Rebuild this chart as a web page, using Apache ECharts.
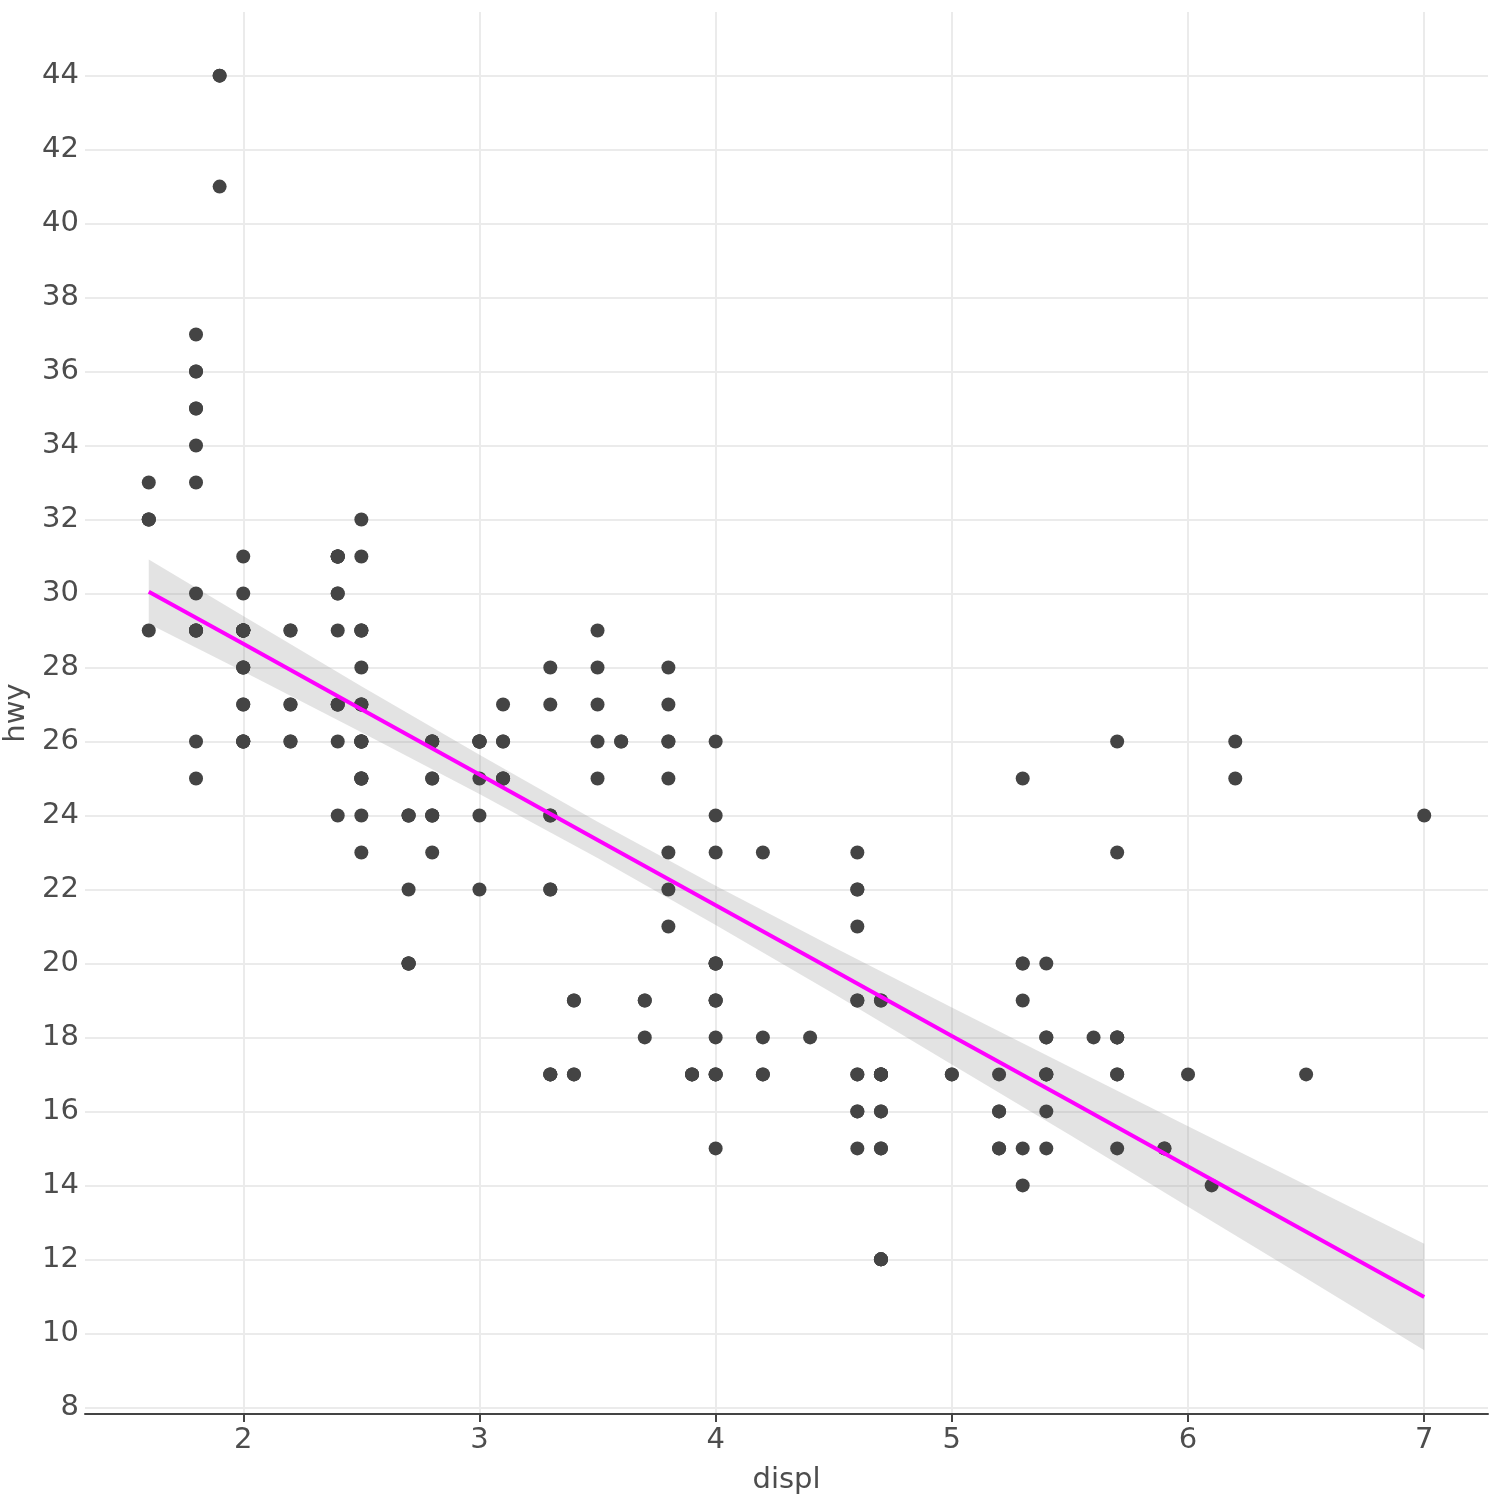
<!DOCTYPE html>
<html><head><meta charset="utf-8">
<script src="https://cdn.jsdelivr.net/npm/echarts@6/dist/echarts.min.js"></script>
<style>html,body{margin:0;padding:0;background:#fff}#c{width:1500px;height:1500px}</style>
</head><body><div id="c"></div>
<script>
// mpg: displ vs hwy (one entry per car)
const displ = [
1.8,1.8,2.0,2.0,2.8,2.8,3.1,1.8,1.8,2.0,
2.0,2.8,2.8,3.1,3.1,2.8,3.1,4.2,5.3,5.3,
5.3,5.7,6.0,5.7,5.7,6.2,6.2,7.0,5.3,5.3,
5.7,6.5,2.4,2.4,3.1,3.5,3.6,2.4,3.0,3.3,
3.3,3.3,3.3,3.3,3.8,3.8,3.8,4.0,3.7,3.7,
3.9,3.9,4.7,4.7,4.7,5.2,5.2,3.9,4.7,4.7,
4.7,5.2,5.7,5.9,4.7,4.7,4.7,4.7,4.7,4.7,
5.2,5.2,5.7,5.9,4.6,5.4,5.4,4.0,4.0,4.0,
4.0,4.6,5.0,4.2,4.2,4.6,4.6,4.6,5.4,5.4,
3.8,3.8,4.0,4.0,4.6,4.6,4.6,4.6,5.4,
1.6,1.6,1.6,1.6,1.6,1.8,1.8,1.8,2.0,
2.4,2.4,2.4,2.4,2.5,2.5,3.3,
2.0,2.0,2.0,2.0,2.7,2.7,2.7,
3.0,3.7,4.0,4.7,4.7,5.7,6.1,
4.0,4.2,4.4,4.6,
5.4,5.4,5.4,
4.0,4.0,4.6,5.0,
2.4,2.4,2.5,2.5,3.5,3.5,3.0,3.0,3.5,3.3,3.3,4.0,5.6,
3.1,3.8,3.8,3.8,5.3,
2.5,2.5,2.5,2.5,2.5,2.5,2.2,2.2,2.5,2.5,2.5,2.5,2.5,2.5,
2.7,2.7,3.4,3.4,4.0,4.7,
2.2,2.2,2.4,2.4,3.0,3.0,3.5,
2.2,2.2,2.4,2.4,3.0,3.0,3.3,
1.8,1.8,1.8,1.8,1.8,
4.7,5.7,
2.7,2.7,2.7,3.4,3.4,4.0,4.0,
2.0,2.0,2.0,2.0,2.8,
1.9,2.0,2.0,2.0,2.0,2.5,2.5,2.8,2.8,
1.9,1.9,2.0,2.0,2.5,2.5,
1.8,1.8,2.0,2.0,2.8,2.8,3.6
];
const hwy = [
29,29,31,30,26,26,27,26,25,28,
27,25,25,25,25,24,25,23,20,15,
20,17,17,26,23,26,25,24,19,14,
15,17,27,30,26,29,26,24,24,22,
22,24,24,17,22,21,23,23,19,18,
17,17,19,19,12,17,15,17,17,12,
17,16,18,15,16,12,17,17,16,15,
15,16,17,15,17,17,18,17,19,17,
19,19,17,17,17,16,16,17,15,17,
26,25,26,24,21,22,23,22,20,
33,32,32,29,32,34,36,36,29,
26,27,30,31,26,26,28,
26,29,28,27,24,24,24,
22,19,20,17,12,18,14,
15,18,18,15,
17,16,18,
17,19,19,17,
29,27,31,32,27,26,26,25,25,17,17,20,18,
26,26,27,28,25,
25,24,27,25,26,23,26,26,26,26,25,27,25,27,
20,20,19,17,20,17,
29,27,31,31,26,26,28,
27,29,31,31,26,26,27,
30,33,35,37,35,
15,18,
20,20,22,17,19,18,20,
29,26,29,29,24,
44,29,26,29,29,29,29,23,24,
44,41,29,26,28,29,
29,29,28,29,26,26,26
];
// linear fit and 95% band
const fitX = [1.6,2.0,2.5,3.0,3.5,4.0,4.5,5.0,5.5,6.0,6.5,7.0];
const fitY = [30.05,28.64,26.87,25.11,23.34,21.57,19.81,18.04,16.28,14.51,12.75,10.98];
const bandLow = [29.18,27.89,26.25,24.58,22.85,21.04,19.18,17.27,15.36,13.42,11.49,9.54];
const bandHigh = [30.92,29.39,27.49,25.64,23.83,22.10,20.44,18.81,17.20,15.60,14.01,12.42];
const xTicks = [2,3,4,5,6,7];
const yTicks = [8,10,12,14,16,18,20,22,24,26,28,30,32,34,36,38,40,42,44];

const pts = displ.map((d,i)=>[d,hwy[i]]);
const fitData = fitX.map((x,i)=>[x,fitY[i]]);
const bandData = fitX.map((x,i)=>[x,bandLow[i],bandHigh[i]]);

const txt = '#4D4D4D';
const font = 'DejaVu Sans';
const chart = echarts.init(document.getElementById('c'));
chart.setOption({
  backgroundColor:'#fff',
  animation:false,
  grid:{left:85,right:12,top:12,bottom:86,containLabel:false,outerBoundsMode:'none'},
  xAxis:{
    type:'value', min:1.33, max:7.27,
    name:'displ', nameLocation:'middle', nameGap:52,
    nameTextStyle:{color:txt,fontSize:29,fontFamily:font},
    axisLine:{show:true,onZero:false,lineStyle:{color:'#444',width:2}},
    axisTick:{show:true,length:8,lineStyle:{color:'#444',width:2},customValues:xTicks},
    axisLabel:{color:txt,fontSize:29,fontFamily:font,margin:12,customValues:xTicks},
    splitLine:{show:true,lineStyle:{color:'#EBEBEB',width:2}}
  },
  yAxis:{
    type:'value', min:7.82, max:45.72,
    name:'hwy', nameLocation:'middle', nameGap:54, nameRotate:90,
    nameTextStyle:{color:txt,fontSize:29,fontFamily:font},
    axisLine:{show:false},
    axisTick:{show:false,customValues:yTicks},
    axisLabel:{color:txt,fontSize:29,fontFamily:font,margin:6,customValues:yTicks},
    splitLine:{show:true,lineStyle:{color:'#EBEBEB',width:2}}
  },
  series:[
    {type:'custom',data:[0],silent:true,z:2,clip:true,
     renderItem:function(params,api){
       const upper = bandData.map(d=>api.coord([d[0],d[2]]));
       const lower = bandData.slice().reverse().map(d=>api.coord([d[0],d[1]]));
       return {type:'polygon',shape:{points:upper.concat(lower)},
               style:{fill:'rgba(150,150,150,0.27)'}};
     }},
    {type:'scatter',data:pts,symbolSize:14,itemStyle:{color:'#444444',opacity:1},z:3},
    {type:'line',data:fitData,symbol:'none',lineStyle:{color:'#FF00FF',width:4},z:4}
  ]
});
</script></body></html>
